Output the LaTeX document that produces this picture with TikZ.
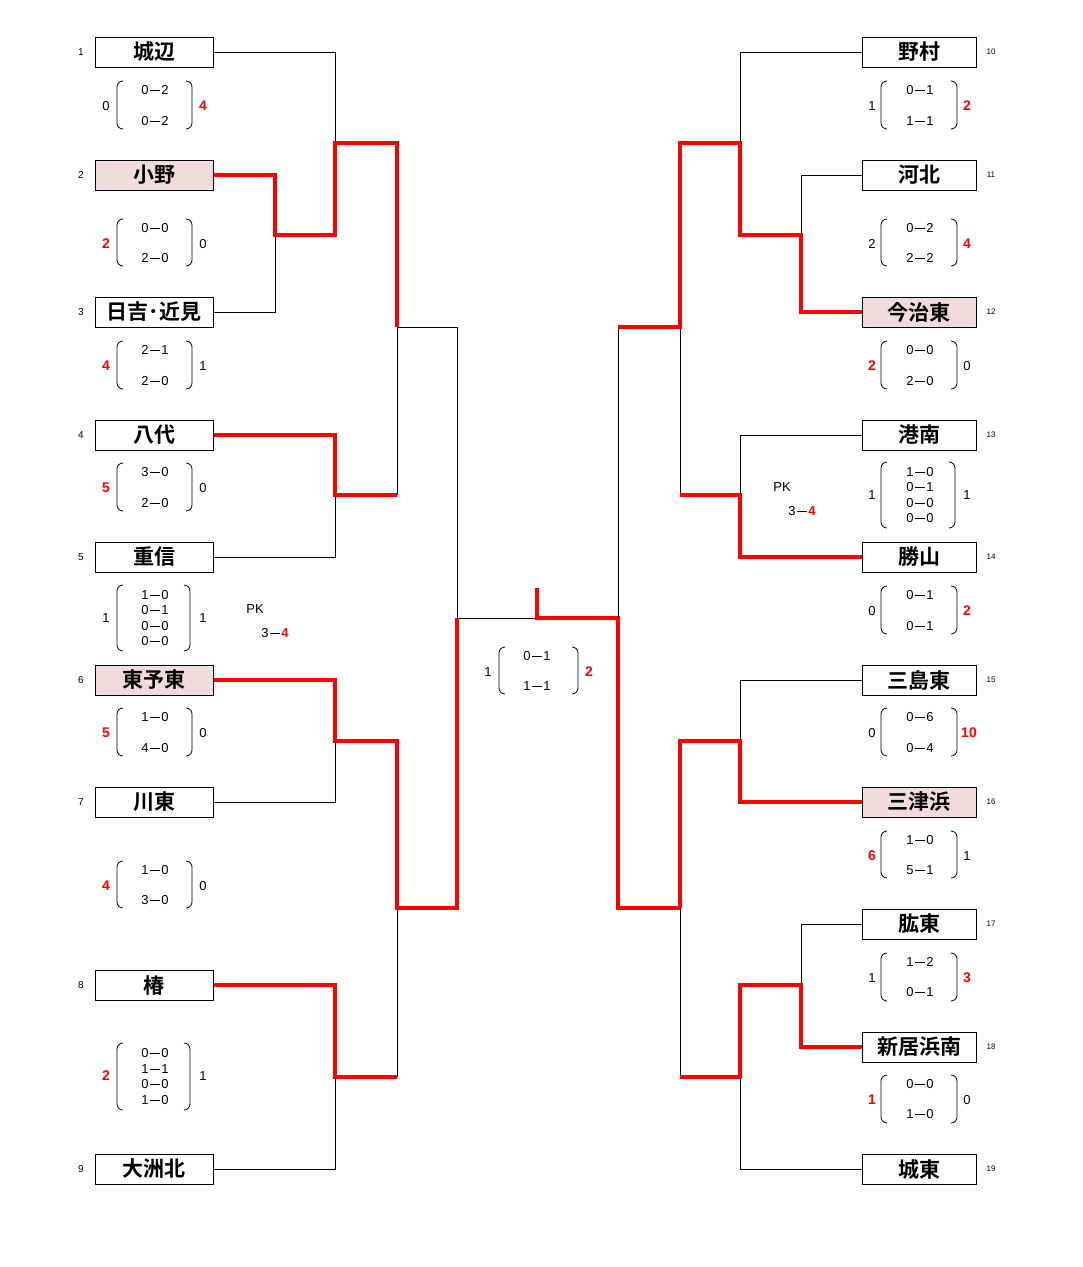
\documentclass[tikz,border=0pt]{standalone}
\usepackage{fontspec}
\setmainfont{Liberation Sans}
\newfontfamily\jp{Noto Sans CJK JP}[BoldFont={* Bold}]
\definecolor{winred}{RGB}{255,0,0}
\definecolor{winfill}{RGB}{242,220,219}
\newcommand{\sd}{\hspace{0.12em}\rule[0.3em]{0.75em}{0.9pt}\hspace{0.12em}}
\tikzset{team/.style={draw,line width=1pt,minimum width=118pt,minimum height=30pt,inner sep=0pt,font=\jp\bfseries\fontsize{21}{21}\selectfont},
 wteam/.style={team,fill=winfill},
 bl/.style={line width=1pt},
 rd/.style={line width=3.5pt,winred},
 sc/.style={font=\fontsize{13}{13}\selectfont,inner sep=0pt},
 rsc/.style={sc,winred,font=\bfseries\fontsize{14}{14}\selectfont},
 seed/.style={font=\fontsize{10}{10}\selectfont,inner sep=0pt}}
\newcommand{\parpair}[4]{%
 \draw[line width=0.8pt,rounded corners=6pt] (#1+6,#3) -- (#1,#3) -- (#1,#4) -- (#1+6,#4);
 \draw[line width=0.8pt,rounded corners=6pt] (#2-6,#3) -- (#2,#3) -- (#2,#4) -- (#2-6,#4);}
\begin{document}
\begin{tikzpicture}[x=1pt,y=-1pt]
\useasboundingbox (0,0) rectangle (1083,1267);
% brackets left
\draw[bl] (213,52) -- (335,52) -- (335,143);
\draw[bl] (213,312) -- (275,312) -- (275,235);
\draw[bl] (213,557) -- (335,557) -- (335,495);
\draw[bl] (397,327) -- (397,495);
\draw[bl] (397,327) -- (457,327) -- (457,618) -- (537,618);
\draw[bl] (213,802) -- (335,802) -- (335,741);
\draw[bl] (213,1169) -- (335,1169) -- (335,1077);
\draw[bl] (397,908) -- (397,1077);
\draw[rd] (213,175) -- (275,175) -- (275,235) -- (335,235) -- (335,143) -- (397,143) -- (397,327);
\draw[rd] (213,435) -- (335,435) -- (335,495) -- (397,495);
\draw[rd] (213,680) -- (335,680) -- (335,741) -- (397,741) -- (397,908) -- (457,908) -- (457,618);
\draw[rd] (213,985) -- (335,985) -- (335,1077) -- (397,1077);
% center
\draw[rd] (537,588) -- (537,618) -- (618,618) -- (618,908) -- (680,908);
\draw[bl] (618,618) -- (618,327);
% right
\draw[bl] (862,52) -- (740,52) -- (740,143);
\draw[bl] (862,175) -- (801,175) -- (801,235);
\draw[bl] (862,435) -- (740,435) -- (740,495);
\draw[bl] (680,327) -- (680,495);
\draw[bl] (862,680) -- (740,680) -- (740,741);
\draw[bl] (862,924) -- (801,924) -- (801,985);
\draw[bl] (862,1169) -- (740,1169) -- (740,1077);
\draw[bl] (680,908) -- (680,1077);
\draw[rd] (862,312) -- (801,312) -- (801,235) -- (740,235) -- (740,143) -- (680,143) -- (680,327) -- (618,327);
\draw[rd] (862,557) -- (740,557) -- (740,495) -- (680,495);
\draw[rd] (862,802) -- (740,802) -- (740,741) -- (680,741) -- (680,908);
\draw[rd] (862,1047) -- (801,1047) -- (801,985) -- (740,985) -- (740,1077) -- (680,1077);
% teams left
\node[team]  (t1) at (154,52) {城辺};
\node[wteam] (t2) at (154,175) {小野};
\node[team]  (t3) at (154,312) {日吉･近見};
\node[team]  (t4) at (154,435) {八代};
\node[team]  (t5) at (154,557) {重信};
\node[wteam] (t6) at (154,680) {東予東};
\node[team]  (t7) at (154,802) {川東};
\node[team]  (t8) at (154,985) {椿};
\node[team]  (t9) at (154,1169) {大洲北};
\foreach \n/\y in {1/52,2/175,3/312,4/435,5/557,6/680,7/802,8/985,9/1169} \node[seed] at (81,\y) {\n};
% teams right
\tikzset{rteam/.style={team,minimum width=114pt}}
\node[rteam] (t10) at (919,52) {野村};
\node[rteam] (t11) at (919,175) {河北};
\node[rteam,fill=winfill] (t12) at (919,312) {今治東};
\node[rteam] (t13) at (919,435) {港南};
\node[rteam] (t14) at (919,557) {勝山};
\node[rteam] (t15) at (919,680) {三島東};
\node[rteam,fill=winfill] (t16) at (919,802) {三津浜};
\node[rteam] (t17) at (919,924) {肱東};
\node[rteam] (t18) at (919,1047) {新居浜南};
\node[rteam] (t19) at (919,1169) {城東};
\foreach \n/\y in {10/52,11/175,12/312,13/435,14/557,15/680,16/802,17/924,18/1047,19/1169} \node[seed,font=\fontsize{8}{8}\selectfont] at (991,\y) {\n};
% scores left
\parpair{117}{192}{81}{129}
\node[sc] at (155,90) {0\sd2}; \node[sc] at (155,121) {0\sd2};
\node[sc] at (106,106) {0}; \node[rsc] at (203,106) {4};
\parpair{117}{192}{219}{266}
\node[sc] at (155,228) {0\sd0}; \node[sc] at (155,258) {2\sd0};
\node[rsc] at (106,244) {2}; \node[sc] at (203,244) {0};
\parpair{117}{192}{341}{389}
\node[sc] at (155,350) {2\sd1}; \node[sc] at (155,381) {2\sd0};
\node[rsc] at (106,366) {4}; \node[sc] at (203,366) {1};
\parpair{117}{192}{463}{511}
\node[sc] at (155,472) {3\sd0}; \node[sc] at (155,503) {2\sd0};
\node[rsc] at (106,488) {5}; \node[sc] at (203,488) {0};
\parpair{117}{190}{585}{651}
\node[sc] at (155,595) {1\sd0}; \node[sc] at (155,610) {0\sd1}; \node[sc] at (155,626) {0\sd0}; \node[sc] at (155,641) {0\sd0};
\node[sc] at (106,618) {1}; \node[sc] at (203,618) {1};
\node[sc] at (255,609) {PK}; \node[sc] at (275,633) {3\sd\textcolor{winred}{\bfseries 4}};
\parpair{117}{192}{708}{756}
\node[sc] at (155,717) {1\sd0}; \node[sc] at (155,748) {4\sd0};
\node[rsc] at (106,733) {5}; \node[sc] at (203,733) {0};
\parpair{117}{192}{861}{908}
\node[sc] at (155,870) {1\sd0}; \node[sc] at (155,900) {3\sd0};
\node[rsc] at (106,886) {4}; \node[sc] at (203,886) {0};
\parpair{117}{190}{1043}{1110}
\node[sc] at (155,1053) {0\sd0}; \node[sc] at (155,1069) {1\sd1}; \node[sc] at (155,1084) {0\sd0}; \node[sc] at (155,1100) {1\sd0};
\node[rsc] at (106,1076) {2}; \node[sc] at (203,1076) {1};
% center
\parpair{499}{578}{647}{694}
\node[sc] at (537,656) {0\sd1}; \node[sc] at (537,686) {1\sd1};
\node[sc] at (488,672) {1}; \node[rsc] at (589,672) {2};
% right scores
\parpair{881}{957}{81}{129}
\node[sc] at (920,90) {0\sd1}; \node[sc] at (920,121) {1\sd1};
\node[sc] at (872,106) {1}; \node[rsc] at (967,106) {2};
\parpair{881}{957}{219}{266}
\node[sc] at (920,228) {0\sd2}; \node[sc] at (920,258) {2\sd2};
\node[sc] at (872,244) {2}; \node[rsc] at (967,244) {4};
\parpair{881}{957}{341}{389}
\node[sc] at (920,350) {0\sd0}; \node[sc] at (920,381) {2\sd0};
\node[rsc] at (872,366) {2}; \node[sc] at (967,366) {0};
\parpair{881}{955}{462}{528}
\node[sc] at (920,472) {1\sd0}; \node[sc] at (920,487) {0\sd1}; \node[sc] at (920,503) {0\sd0}; \node[sc] at (920,518) {0\sd0};
\node[sc] at (872,495) {1}; \node[sc] at (967,495) {1};
\node[sc] at (782,487) {PK}; \node[sc] at (802,511) {3\sd\textcolor{winred}{\bfseries 4}};
\parpair{881}{957}{586}{634}
\node[sc] at (920,595) {0\sd1}; \node[sc] at (920,626) {0\sd1};
\node[sc] at (872,611) {0}; \node[rsc] at (967,611) {2};
\parpair{881}{957}{708}{756}
\node[sc] at (920,717) {0\sd6}; \node[sc] at (920,748) {0\sd4};
\node[sc] at (872,733) {0}; \node[rsc] at (969,733) {10};
\parpair{881}{957}{831}{878}
\node[sc] at (920,840) {1\sd0}; \node[sc] at (920,870) {5\sd1};
\node[rsc] at (872,856) {6}; \node[sc] at (967,856) {1};
\parpair{881}{957}{953}{1001}
\node[sc] at (920,962) {1\sd2}; \node[sc] at (920,992) {0\sd1};
\node[sc] at (872,978) {1}; \node[rsc] at (967,978) {3};
\parpair{881}{957}{1075}{1123}
\node[sc] at (920,1084) {0\sd0}; \node[sc] at (920,1114) {1\sd0};
\node[rsc] at (872,1100) {1}; \node[sc] at (967,1100) {0};
\end{tikzpicture}
\end{document}
